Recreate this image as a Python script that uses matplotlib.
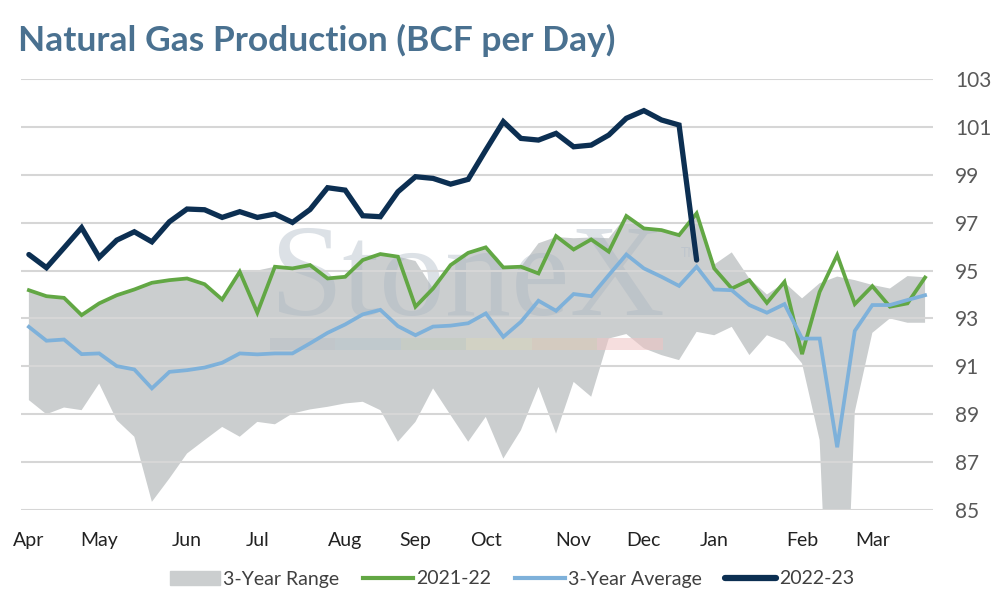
import numpy as np
import matplotlib.pyplot as plt
from matplotlib.patches import Patch, Rectangle
from matplotlib.lines import Line2D

months = ["Apr", "May", "Jun", "Jul", "Aug", "Sep", "Oct", "Nov", "Dec", "Jan", "Feb", "Mar"]
month_pos = [0, 4, 9, 13, 18, 22, 26, 31, 35, 39, 44, 48]

prod_2223 = [95.67, 95.12, 95.95, 96.79, 95.55, 96.27, 96.62, 96.2, 97.04, 97.57,
             97.54, 97.22, 97.46, 97.22, 97.36, 97.01, 97.55, 98.46, 98.36, 97.29,
             97.25, 98.29, 98.92, 98.85, 98.61, 98.81, 100.03, 101.22, 100.52, 100.45,
             100.73, 100.17, 100.24, 100.66, 101.36, 101.68, 101.29, 101.08, 95.44]

prod_2122 = [94.18, 93.93, 93.86, 93.14, 93.63, 93.97, 94.21, 94.49, 94.6, 94.67,
             94.43, 93.79, 94.95, 93.24, 95.16, 95.09, 95.23, 94.67, 94.74, 95.44,
             95.69, 95.58, 93.49, 94.25, 95.23, 95.74, 95.97, 95.13, 95.16, 94.88,
             96.44, 95.88, 96.30, 95.79, 97.28, 96.76, 96.69, 96.48, 97.39, 95.09,
             94.25, 94.6, 93.65, 94.53, 91.51, 94.11, 95.65, 93.6, 94.35, 93.49,
             93.63, 94.71]

avg_3yr = [92.65, 92.07, 92.12, 91.51, 91.54, 91.01, 90.87, 90.08, 90.77, 90.84,
           90.95, 91.15, 91.54, 91.50, 91.54, 91.54, 91.96, 92.40, 92.75, 93.17,
           93.36, 92.68, 92.30, 92.66, 92.70, 92.80, 93.21, 92.23, 92.86, 93.74,
           93.32, 94.02, 93.93, 94.81, 95.67, 95.09, 94.74, 94.36, 95.16, 94.21,
           94.18, 93.56, 93.24, 93.60, 92.16, 92.16, 87.62, 92.48, 93.56, 93.56,
           93.77, 93.97]

range_low = [89.59, 89.0, 89.28, 89.17, 90.28, 88.75, 88.06, 85.34, 86.32, 87.36,
             87.92, 88.47, 88.06, 88.68, 88.58, 89.03, 89.2, 89.31, 89.45, 89.52,
             89.17, 87.85, 88.68, 90.08, 88.96, 87.85, 88.89, 87.15, 88.33, 90.14,
             88.19, 90.35, 89.73, 92.16, 92.35, 91.75, 91.47, 91.26, 92.44, 92.30,
             92.65, 91.47, 92.30, 92.02, 91.12, 87.92, 71.0, 89.1, 92.40, 93.0,
             92.82, 92.82]

range_high = [94.18, 93.93, 93.86, 93.14, 93.63, 93.97, 94.21, 94.49, 94.6, 94.67,
              94.43, 93.79, 94.95, 95.0, 95.16, 95.09, 95.23, 94.67, 94.74, 95.44,
              95.69, 95.58, 95.4, 94.25, 95.23, 95.74, 95.97, 95.1, 95.15, 96.14,
              96.4, 96.35, 96.38, 96.35, 97.28, 96.76, 96.69, 96.48, 97.39, 95.25,
              95.76, 94.67, 94.0, 94.5, 93.84, 94.47, 94.75, 94.6, 94.4, 94.25,
              94.77, 94.72]

plt.rcParams['font.family'] = ['Lato', 'DejaVu Sans']

c_range = '#cbcecf'
c_2122 = '#62a744'
c_avg = '#7eb1da'
c_2223 = '#0c2f52'

fig = plt.figure(figsize=(9.94, 6), dpi=100)
ax = fig.add_axes([0.0211, 0.15, 0.9175, 0.7183])

x_all = np.arange(len(prod_2122))
ax.fill_between(x_all, range_low, range_high, color=c_range, lw=0, zorder=1)

# faint logo watermark
ax.text(0.272, 0.452, "StoneX", transform=ax.transAxes, fontsize=95,
        family='Liberation Serif', color='#a9b5c2', alpha=0.4, va='baseline', ha='left', zorder=2)
ax.text(0.724, 0.596, "TM", transform=ax.transAxes, fontsize=9,
        color='#b9c2cc', alpha=0.7, va='center', zorder=2)
band_cols = ['#b9c0c6', '#b8c6cc', '#c3cbbd', '#d9d7bb', '#ddc9b4', '#f0c4c4']
bx = 0.273
for col in band_cols:
    ax.add_patch(Rectangle((bx, 0.371), 0.0718, 0.028, transform=ax.transAxes,
                           color=col, alpha=0.55, lw=0, zorder=2))
    bx += 0.0718

ax.set_yticks(np.arange(85, 104, 2))
ax.grid(axis='y', color='#d6d6d6', lw=1.5, zorder=3)
ax.set_axisbelow(False)

ax.plot(x_all, prod_2122, color=c_2122, lw=2.7, zorder=4, solid_joinstyle='miter')
ax.plot(x_all, avg_3yr, color=c_avg, lw=2.7, zorder=5, solid_joinstyle='miter')
ax.plot(np.arange(len(prod_2223)), prod_2223, color=c_2223, lw=3.8, zorder=6,
        solid_capstyle='round', solid_joinstyle='miter')

ax.set_xlim(-0.45, 51.45)
ax.set_ylim(85, 103)
ax.set_xticks(month_pos)
ax.set_xticklabels(months, fontsize=14, color='#222222')
ax.yaxis.tick_right()
ax.tick_params(axis='y', length=0, pad=16, labelsize=15, labelcolor='#595959')
ax.tick_params(axis='x', length=0, pad=16)
for s in ax.spines.values():
    s.set_visible(False)

fig.text(0.018, 0.933, "Natural Gas Production (BCF per Day)", fontsize=25.5,
         fontweight='bold', color='#4a7190', va='center', ha='left')

handles = [Patch(color=c_range),
           Line2D([], [], color=c_2122, lw=3),
           Line2D([], [], color=c_avg, lw=3),
           Line2D([], [], color=c_2223, lw=4.5, solid_capstyle='round')]
labels = ["3-Year Range", "2021-22", "3-Year Average", "2022-23"]
fig.legend(handles, labels, loc='center', bbox_to_anchor=(0.515, 0.035), ncol=4,
           frameon=False, fontsize=14, handlelength=2.6, handletextpad=0.15,
           columnspacing=1.2, labelcolor='#404040')

fig.savefig("out.png", dpi=100)
